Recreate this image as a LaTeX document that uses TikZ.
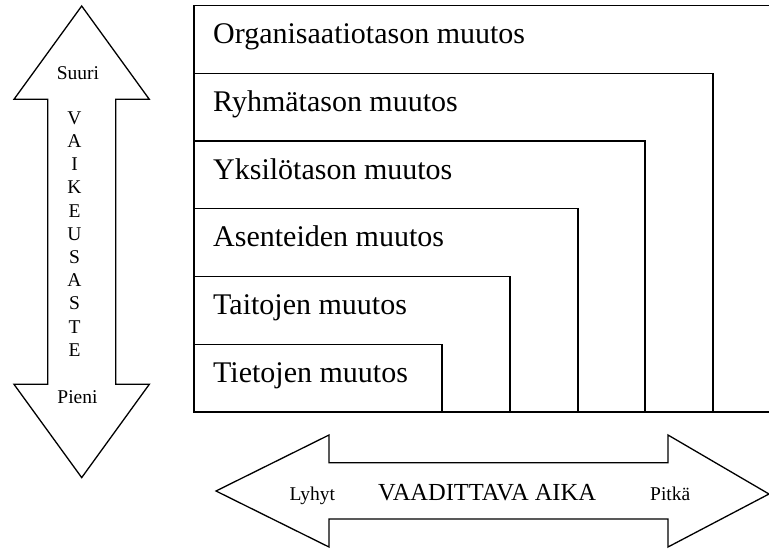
\documentclass[tikz,border=0pt]{standalone}
\usepackage{fontspec}
\setmainfont{Liberation Serif}
\begin{document}
\begin{tikzpicture}[x=1pt,y=-1pt,
  outline/.style={draw=black,line width=1.3pt,line join=miter},
  levellabel/.style={anchor=base west,inner sep=0pt,font=\fontsize{30}{36}\selectfont},
  smalllabel/.style={inner sep=0pt,font=\fontsize{19.5}{23}\selectfont},
  axislabel/.style={anchor=base west,inner sep=0pt,font=\fontsize{24.5}{29}\selectfont}]
\useasboundingbox (0,0) rectangle (769,550);

% nested levels of change: common left edge and baseline, open to the right
\draw[outline] (769,5.5) -- (194,5.5) -- (194,412) -- (769,412);
\draw[outline] (194,73.3) -- (713,73.3) -- (713,412);
\draw[outline] (194,141) -- (645,141) -- (645,412);
\draw[outline] (194,208.7) -- (578,208.7) -- (578,412);
\draw[outline] (194,276.5) -- (510,276.5) -- (510,412);
\draw[outline] (194,344.2) -- (442,344.2) -- (442,412);

\node[levellabel] (org)  at (213,43.5)  {Organisaatiotason muutos};
\node[levellabel] (ryh)  at (213,111.3) {Ryhmätason muutos};
\node[levellabel] (yks)  at (213,179)   {Yksilötason muutos};
\node[levellabel] (ase)  at (213,246.8) {Asenteiden muutos};
\node[levellabel] (tai)  at (213,314.5) {Taitojen muutos};
\node[levellabel] (tie)  at (213,382.3) {Tietojen muutos};

% vertical double arrow: difficulty
\draw[outline] (81.7,6) -- (149.3,99.3) -- (115.7,99.3) -- (115.7,384.3)
  -- (149.3,384.3) -- (81.7,477.6) -- (14,384.3) -- (47.7,384.3)
  -- (47.7,99.3) -- (14,99.3) -- cycle;
\node[smalllabel] (suuri) at (78,73.5) {Suuri};
\node[smalllabel] (pieni) at (77.5,397) {Pieni};
\foreach \ch [count=\i from 0] in {V,A,I,K,E,U,S,A,S,T,E}
  \node[smalllabel] (v\i) at (74.5,118+23.2*\i) {\ch};

% horizontal double arrow: time required
\draw[outline] (216,491) -- (329,435) -- (329,462.7) -- (668,462.7)
  -- (668,435) -- (769,494) -- (668,547) -- (668,519) -- (329,519)
  -- (329,547) -- cycle;
\node[smalllabel,anchor=base west] (lyhyt) at (289.3,500) {Lyhyt};
\node[axislabel] (aika) at (378,500) {VAADITTAVA AIKA};
\node[smalllabel,anchor=base west] (pitka) at (650,500) {Pitkä};
\end{tikzpicture}
\end{document}
